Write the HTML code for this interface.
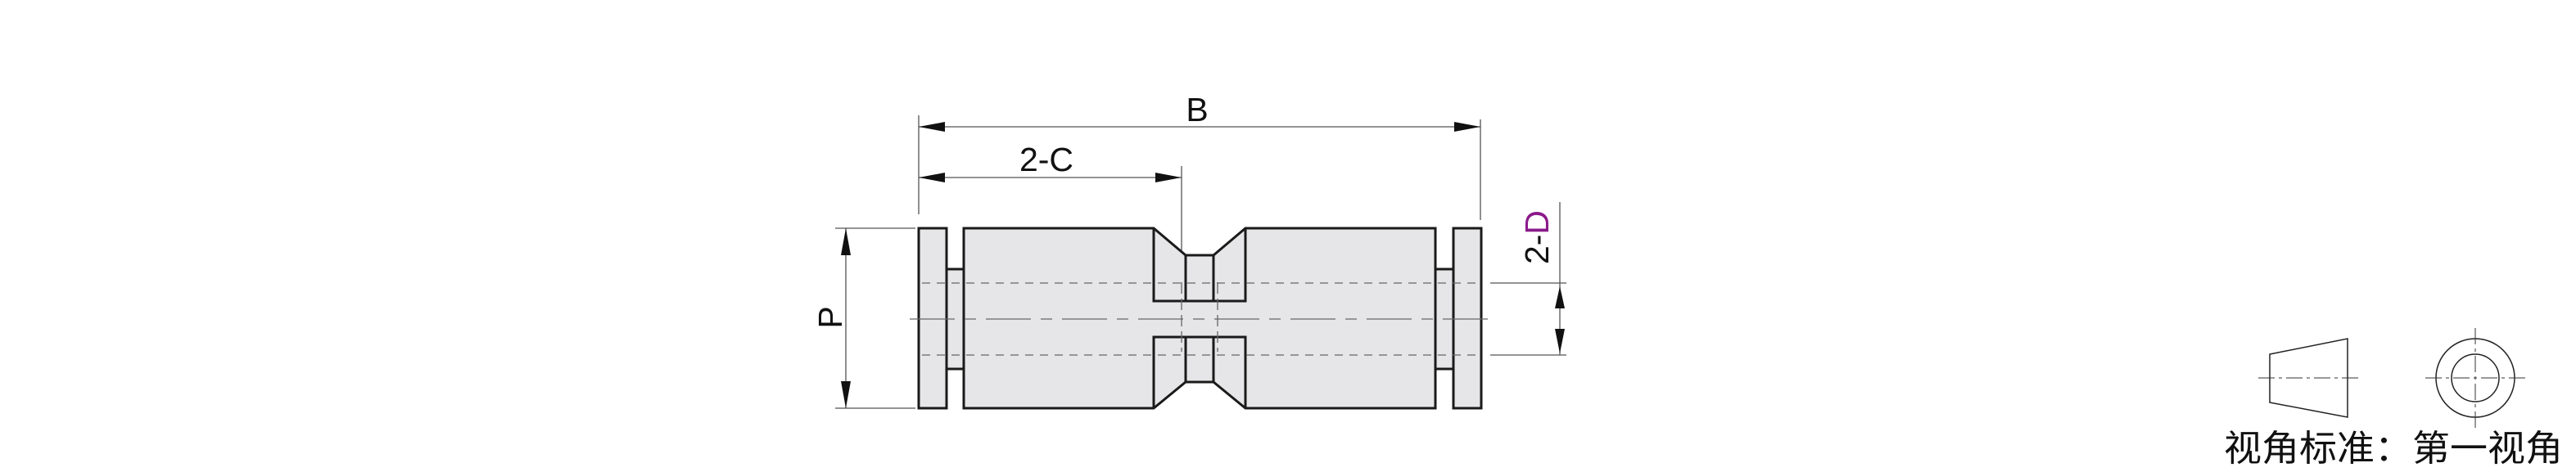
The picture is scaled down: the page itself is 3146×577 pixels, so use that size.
<!DOCTYPE html>
<html><head><meta charset="utf-8"><style>
html,body{margin:0;padding:0;background:#fff;}
svg{display:block;}
text{font-family:"Liberation Sans","Noto Sans CJK SC",sans-serif;}
</style></head><body>
<svg width="3146" height="577" viewBox="0 0 3146 577" xmlns="http://www.w3.org/2000/svg">
<rect width="3146" height="577" fill="#fff"/>
<g stroke="#555" stroke-width="1.3" fill="none">
<line x1="1122" y1="141" x2="1122" y2="262"/>
<line x1="1808" y1="146" x2="1808" y2="269"/>
<line x1="1122" y1="155" x2="1808" y2="155"/>
<line x1="1122" y1="217" x2="1443" y2="217"/>
<line x1="1443" y1="203" x2="1443" y2="345"/>
<line x1="1020" y1="279" x2="1118" y2="279"/>
<line x1="1020" y1="499" x2="1118" y2="499"/>
<line x1="1033" y1="279" x2="1033" y2="499"/>
<line x1="1820" y1="346" x2="1913" y2="346"/>
<line x1="1820" y1="434" x2="1913" y2="434"/>
<line x1="1905" y1="247" x2="1905" y2="434"/>
</g>
<g fill="#111">
<polygon points="1122,155 1154,149 1154,161"/>
<polygon points="1808,155 1776,149 1776,161"/>
<polygon points="1122,217 1154,211 1154,223"/>
<polygon points="1443,217 1411,211 1411,223"/>
<polygon points="1033,279 1027,312 1039,312"/>
<polygon points="1033,499 1027,466 1039,466"/>
<polygon points="1905,350 1899,377 1911,377"/>
<polygon points="1905,432 1899,402 1911,402"/>
</g>
<g fill="#e6e6e8" stroke="#1a1a1a" stroke-width="3" stroke-linejoin="miter">
<rect x="1156" y="329" width="21" height="122"/>
<rect x="1753" y="329" width="22" height="122"/>
<rect x="1122" y="279" width="34" height="220"/>
<rect x="1775" y="279" width="34" height="220"/>
<path d="M1177,279 H1409 L1448,312 H1482 L1521,279 H1753 V499 H1521 L1482,467 H1448 L1409,499 H1177 Z"/>
<path d="M1409,279 V368 H1521 V279" fill="none"/>
<path d="M1409,499 V412 H1521 V499" fill="none"/>
<line x1="1448" y1="312" x2="1448" y2="368"/>
<line x1="1482" y1="312" x2="1482" y2="368"/>
<line x1="1448" y1="412" x2="1448" y2="467"/>
<line x1="1482" y1="412" x2="1482" y2="467"/>
</g>
<rect x="1411" y="370" width="108" height="40" fill="#e6e6e8"/>
<g stroke="#666" stroke-width="1.3" fill="none">
<line x1="1126" y1="346" x2="1809" y2="346" stroke-dasharray="10,8"/>
<line x1="1126" y1="434" x2="1809" y2="434" stroke-dasharray="10,8"/>
<line x1="1111" y1="390" x2="1820" y2="390" stroke-dasharray="55,12,14,12"/>
<line x1="1443" y1="345" x2="1443" y2="430" stroke-dasharray="14,6"/>
<line x1="1487" y1="345" x2="1487" y2="430" stroke-dasharray="14,6"/>
</g>
<text x="1462" y="148" font-size="41" text-anchor="middle" fill="#111">B</text>
<text x="1278" y="209" font-size="41" text-anchor="middle" fill="#111">2-C</text>
<text transform="translate(1028,388) rotate(-90)" font-size="41" text-anchor="middle" fill="#111">P</text>
<text transform="translate(1891,290) rotate(-90)" font-size="41" text-anchor="middle" fill="#111">2-<tspan fill="#8a1a8a">D</tspan></text>
<g stroke="#222" stroke-width="1.5" fill="none">
<polygon points="2772,433 2867,414 2867,510 2772,492"/>
<circle cx="3023" cy="462" r="48"/>
<circle cx="3023" cy="462" r="29"/>
</g>
<g stroke="#333" stroke-width="1" fill="none" stroke-dasharray="20,5,4,5">
<line x1="2758" y1="462" x2="2882" y2="462"/>
<line x1="2962" y1="462" x2="3086" y2="462"/>
<line x1="3023" y1="401" x2="3023" y2="524"/>
</g>
<text x="2716" y="563" font-size="44" fill="#111" textLength="414" lengthAdjust="spacingAndGlyphs">视角标准：第一视角</text>
</svg>
</body></html>
